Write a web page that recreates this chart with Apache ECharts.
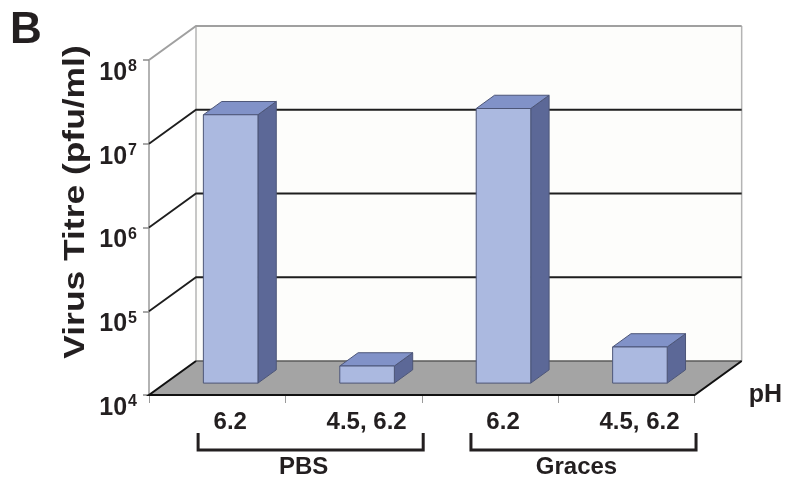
<!DOCTYPE html>
<html>
<head>
<meta charset="utf-8">
<script src="https://cdn.jsdelivr.net/npm/echarts@6/dist/echarts.min.js"></script>
<style>
  html, body { margin: 0; padding: 0; background: #ffffff; }
  #chart { width: 785px; height: 479px; }
</style>
</head>
<body>
<div id="chart"></div>
<script>
// pH treatment for each bar, grouped by buffer
const categories = ['6.2', '4.5, 6.2', '6.2', '4.5, 6.2'];
// virus titre (pfu/ml) for each treatment
const titres = [1.6e7, 1.6e4, 1.9e7, 2.7e4];
// buffer groups and the categories each one spans
const groups = ['PBS', 'Graces'];
const groupSpans = [[0, 1], [2, 3]];
// log-axis decades
const decades = [1e4, 1e5, 1e6, 1e7, 1e8];

const FONT = '"Liberation Sans", Arial, sans-serif';
const INK = '#231f20';
// perspective depth of the plot box (pixels: right, up)
const DEPTH = [47, -34];
// depth slot occupied by the bars, as fractions of the box depth
const BAR_FRONT = 0.35, BAR_BACK = 0.74;

const chart = echarts.init(document.getElementById('chart'), null, { renderer: 'canvas' });

function renderFrame(params, api) {
  const cs = params.coordSys;
  const x0 = cs.x, x1 = cs.x + cs.width;
  const yb = api.coord([0, decades[0]])[1];
  const yt = api.coord([0, decades[decades.length - 1]])[1];
  const dx = DEPTH[0], dy = DEPTH[1];
  const kids = [];
  // back wall
  kids.push({ type: 'rect', shape: { x: x0 + dx, y: yt + dy, width: x1 - x0, height: yb - yt },
    style: { fill: '#fdfdfb' } });
  // floor
  kids.push({ type: 'polygon', shape: { points: [[x0, yb], [x1, yb], [x1 + dx, yb + dy], [x0 + dx, yb + dy]] },
    style: { fill: '#a4a4a4' } });
  // back wall side edges
  kids.push({ type: 'line', shape: { x1: x0 + dx, y1: yt + dy, x2: x0 + dx, y2: yb + dy },
    style: { stroke: '#b4b4b4', lineWidth: 1.5 } });
  kids.push({ type: 'line', shape: { x1: x1 + dx, y1: yt + dy, x2: x1 + dx, y2: yb + dy },
    style: { stroke: '#b4b4b4', lineWidth: 1.5 } });
  // decade grid lines across side and back walls
  decades.slice(1, -1).forEach(function (v) {
    const y = api.coord([0, v])[1];
    kids.push({ type: 'polyline', shape: { points: [[x0, y], [x0 + dx, y + dy], [x1 + dx, y + dy]] },
      style: { stroke: '#1e1e1e', lineWidth: 1.8, fill: null } });
  });
  // top edge
  kids.push({ type: 'polyline', shape: { points: [[x0, yt], [x0 + dx, yt + dy], [x1 + dx, yt + dy]] },
    style: { stroke: '#a0a0a0', lineWidth: 2, fill: null } });
  // floor edges
  kids.push({ type: 'line', shape: { x1: x0 + dx, y1: yb + dy, x2: x1 + dx, y2: yb + dy },
    style: { stroke: '#5a5a5a', lineWidth: 1.5 } });
  kids.push({ type: 'polyline', shape: { points: [[x0 + dx, yb + dy], [x0, yb], [x1, yb], [x1 + dx, yb + dy]] },
    style: { stroke: '#111111', lineWidth: 2, fill: null } });
  return { type: 'group', children: kids };
}

function renderBar(params, api) {
  const cs = params.coordSys;
  const band = cs.width / categories.length;
  const idx = api.value(0);
  const top = api.coord([idx, api.value(1)]);
  const base = api.coord([idx, decades[0]]);
  const w = band * 0.4;
  const cx = top[0] - band * 0.022;
  const fx = DEPTH[0] * BAR_FRONT, fy = DEPTH[1] * BAR_FRONT;
  const ddx = DEPTH[0] * (BAR_BACK - BAR_FRONT), ddy = DEPTH[1] * (BAR_BACK - BAR_FRONT);
  const L = cx - w / 2 + fx, R = cx + w / 2 + fx;
  const T = top[1] + fy, B = base[1] + fy;
  const edge = { stroke: '#4d5678', lineWidth: 1, lineJoin: 'round' };
  return {
    type: 'group',
    children: [
      { type: 'polygon', shape: { points: [[R, T], [R + ddx, T + ddy], [R + ddx, B + ddy], [R, B]] },
        style: Object.assign({ fill: '#5c6897' }, edge) },
      { type: 'polygon', shape: { points: [[L, T], [R, T], [R + ddx, T + ddy], [L + ddx, T + ddy]] },
        style: Object.assign({ fill: '#8192c8' }, edge) },
      { type: 'rect', shape: { x: L, y: T, width: R - L, height: B - T },
        style: Object.assign({ fill: '#abb9e0' }, edge) }
    ]
  };
}

chart.setOption({
  animation: false,
  backgroundColor: '#ffffff',
  grid: { left: 149, right: 87, top: 60, bottom: 84, containLabel: false },
  xAxis: {
    type: 'category',
    data: categories,
    boundaryGap: true,
    axisLine: { show: false },
    axisTick: { show: true, length: 8, lineStyle: { color: '#9a9a9a', width: 1 } },
    axisLabel: {
      margin: 15, padding: [0, 0, 0, 26],
      color: INK, fontFamily: FONT, fontWeight: 'bold', fontSize: 24
    },
    name: 'pH', nameLocation: 'end', nameGap: 54,
    nameTextStyle: { color: INK, fontFamily: FONT, fontWeight: 'bold', fontSize: 25,
      padding: [46, 0, 0, 0] },
    splitLine: { show: false }
  },
  yAxis: {
    type: 'log', logBase: 10, min: decades[0], max: decades[decades.length - 1],
    axisLine: { show: true, lineStyle: { color: '#9a9a9a', width: 1.5 } },
    axisTick: { show: true, inside: false, length: 6, lineStyle: { color: '#8a8a8a', width: 1.5 } },
    splitLine: { show: false },
    minorTick: { show: false },
    axisLabel: {
      margin: 12, padding: [26, 0, 0, 0],
      formatter: function (v) {
        return '{b|10}{s|' + Math.round(Math.log10(v)) + '}';
      },
      rich: {
        b: { color: INK, fontFamily: FONT, fontWeight: 'bold', fontSize: 25, lineHeight: 28 },
        s: { color: INK, fontFamily: FONT, fontWeight: 'bold', fontSize: 16, lineHeight: 16,
          verticalAlign: 'top', padding: [0, 0, 0, 1] }
      }
    }
  },
  series: [
    {
      type: 'custom', name: 'frame', coordinateSystem: 'cartesian2d', clip: false, silent: true, z: 1,
      renderItem: renderFrame,
      data: [[0, decades[0]]]
    },
    {
      type: 'custom', name: 'Virus titre', coordinateSystem: 'cartesian2d', clip: false, z: 3,
      renderItem: renderBar,
      encode: { x: 0, y: 1 },
      data: titres.map(function (v, i) { return [i, v]; })
    }
  ]
});

// group brackets under the category labels, placed from the category axis
const centre = function (i) { return chart.convertToPixel({ xAxisIndex: 0 }, i); };
const bandPx = centre(1) - centre(0);
const bracketTop = 433, bracketBottom = 450;
const graphics = [
  { type: 'text', left: 10, top: 9,
    style: { text: 'B', fill: INK, font: 'bold 44px ' + FONT } },
  { type: 'text', x: 76, y: 202, rotation: Math.PI / 2, scaleX: 1.18, scaleY: 1,
    style: { text: 'Virus Titre (pfu/ml)', fill: INK, font: 'bold 30px ' + FONT,
      align: 'center', verticalAlign: 'middle' } }
];
groups.forEach(function (g, k) {
  const span = groupSpans[k];
  const l = centre(span[0]) - bandPx * 0.14;
  const r = centre(span[1]) + bandPx * 0.51;
  graphics.push({ type: 'polyline',
    shape: { points: [[l, bracketTop], [l, bracketBottom], [r, bracketBottom], [r, bracketTop]] },
    style: { stroke: INK, lineWidth: 3, fill: null } });
  graphics.push({ type: 'text', x: (l + r) / 2 - 7, y: 467,
    style: { text: g, fill: INK, font: 'bold 24px ' + FONT, align: 'center', verticalAlign: 'middle' } });
});
chart.setOption({ graphic: graphics });
</script>
</body>
</html>
